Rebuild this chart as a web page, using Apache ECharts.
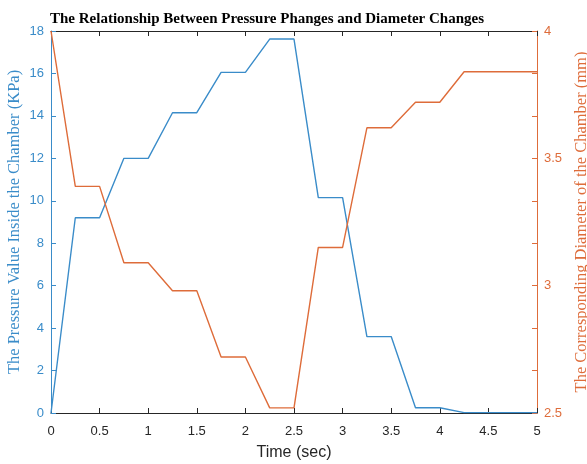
<!DOCTYPE html>
<html>
<head>
<meta charset="utf-8">
<script src="https://cdn.jsdelivr.net/npm/echarts@6/dist/echarts.min.js"></script>
<style>html,body{margin:0;padding:0;background:#fff;}#c{width:587px;height:464px;}</style>
</head>
<body>
<div id="c"></div>
<script>
const timeSec = [0, 0.25, 0.5, 0.75, 1, 1.25, 1.5, 1.75, 2, 2.25, 2.5, 2.75, 3, 3.25, 3.5, 3.75, 4, 4.25, 4.5, 4.75, 5];
const pressureKPa = [0, 9.2, 9.2, 12, 12, 14.15, 14.15, 16.05, 16.05, 17.62, 17.62, 10.15, 10.15, 3.6, 3.6, 0.25, 0.25, 0.02, 0.02, 0.02, 0.02];
const diameterMm = [4, 3.39, 3.39, 3.09, 3.09, 2.98, 2.98, 2.72, 2.72, 2.52, 2.52, 3.15, 3.15, 3.62, 3.62, 3.72, 3.72, 3.84, 3.84, 3.84, 3.84];
const titleText = 'The Relationship Between Pressure Phanges and Diameter Changes';
const leftName = 'The Pressure Value Inside the Chamber (KPa)';
const rightName = 'The Corresponding Diameter of the Chamber (mm)';
const xName = 'Time (sec)';

const BLUE = '#3a8cc9';
const ORANGE = '#de6c3a';
const DARK = '#262626';
const SERIF = '"Liberation Serif", "Times New Roman", serif';
const SANS = '"Liberation Sans", Arial, sans-serif';

const chart = echarts.init(document.getElementById('c'));
chart.setOption({
  animation: false,
  backgroundColor: '#fff',
  title: {
    text: titleText,
    left: 262, top: 7, textAlign: 'center',
    textStyle: { fontFamily: SERIF, fontWeight: 'bold', fontSize: 15, color: '#000' }
  },
  grid: { left: 51, right: 50, top: 31, bottom: 51, containLabel: false, outerBoundsMode: 'none' },
  xAxis: [{
    type: 'value', min: 0, max: 5, interval: 0.5, position: 'bottom',
    name: xName, nameLocation: 'middle', nameGap: 32,
    nameTextStyle: { fontFamily: SANS, fontSize: 16, color: DARK },
    axisLine: { show: true, onZero: false, lineStyle: { color: DARK, width: 1 } },
    axisTick: { show: true, inside: true, length: 5, lineStyle: { color: DARK } },
    axisLabel: { fontFamily: SANS, fontSize: 13, color: DARK, margin: 12 },
    splitLine: { show: false }
  }, {
    type: 'value', min: 0, max: 5, interval: 0.5, position: 'top',
    axisLine: { show: true, onZero: false, lineStyle: { color: DARK, width: 1 } },
    axisTick: { show: true, inside: true, length: 5, lineStyle: { color: DARK } },
    axisLabel: { show: false },
    splitLine: { show: false }
  }],
  yAxis: [{
    type: 'value', min: 0, max: 18, interval: 2, position: 'left',
    name: leftName, nameLocation: 'middle', nameGap: 28, nameMoveOverlap: false,
    nameTextStyle: { fontFamily: SERIF, fontSize: 16.5, color: BLUE },
    axisLine: { show: true, onZero: false, lineStyle: { color: BLUE, width: 1 } },
    axisTick: { show: true, inside: true, length: 5, lineStyle: { color: BLUE } },
    axisLabel: { fontFamily: SANS, fontSize: 13, color: BLUE, margin: 7 },
    splitLine: { show: false }
  }, {
    type: 'value', min: 2.5, max: 4, interval: 1 / 6, position: 'right',
    name: rightName, nameLocation: 'middle', nameGap: 36,
    nameTextStyle: { fontFamily: SERIF, fontSize: 16.5, color: ORANGE },
    axisLine: { show: true, onZero: false, lineStyle: { color: ORANGE, width: 1 } },
    axisTick: { show: true, inside: true, length: 5, lineStyle: { color: ORANGE } },
    axisLabel: {
      fontFamily: SANS, fontSize: 13, color: ORANGE, margin: 7,
      formatter: function (v) {
        const d = v * 2;
        if (Math.abs(d - Math.round(d)) < 1e-6) return String(Math.round(d) / 2);
        return '';
      }
    },
    splitLine: { show: false }
  }],
  series: [{
    type: 'line', xAxisIndex: 0, yAxisIndex: 0,
    data: timeSec.map((t, i) => [t, pressureKPa[i]]),
    showSymbol: false, symbol: 'none',
    lineStyle: { color: BLUE, width: 1.4 }, itemStyle: { color: BLUE }
  }, {
    type: 'line', xAxisIndex: 0, yAxisIndex: 1,
    data: timeSec.map((t, i) => [t, diameterMm[i]]),
    showSymbol: false, symbol: 'none',
    lineStyle: { color: ORANGE, width: 1.4 }, itemStyle: { color: ORANGE }
  }]
});
</script>
</body>
</html>
